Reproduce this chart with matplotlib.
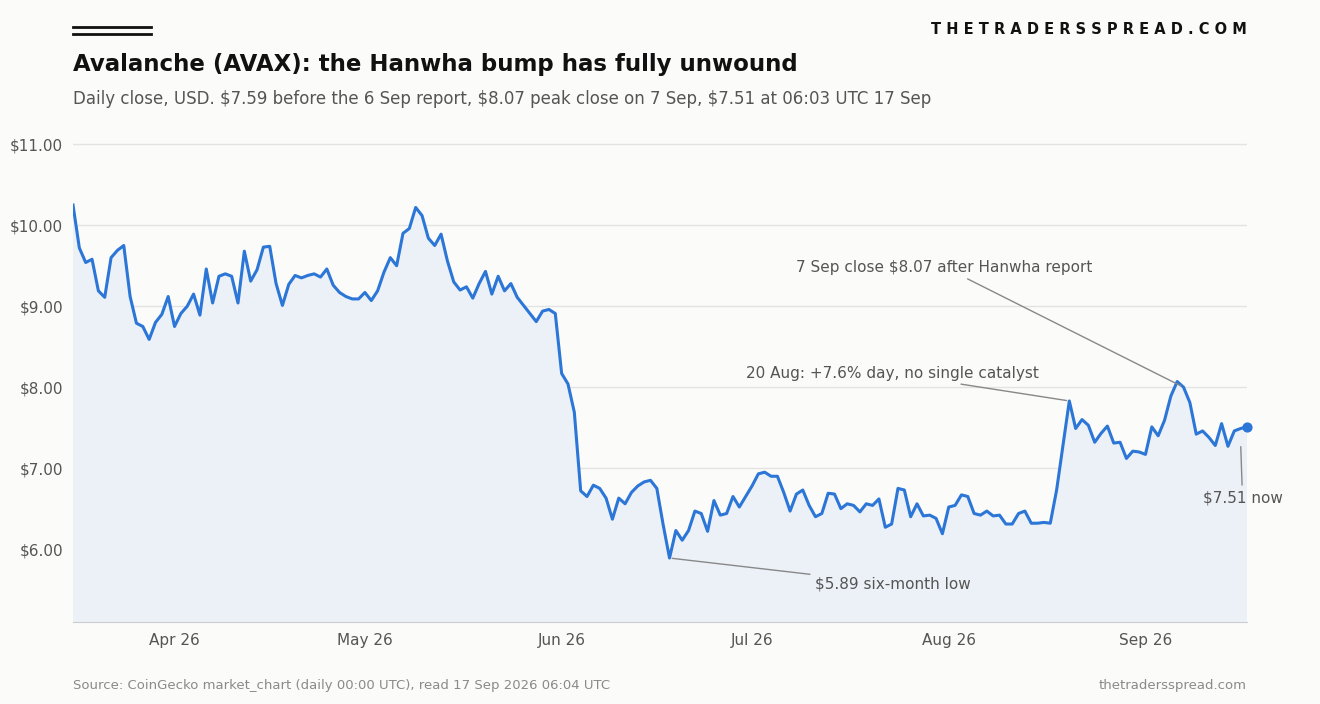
import matplotlib
matplotlib.use("Agg")
import matplotlib.pyplot as plt
import matplotlib.dates as mdates
from matplotlib.lines import Line2D
import numpy as np
import pandas as pd

# daily closes, USD
closes = [
    10.25, 9.72, 9.54, 9.58, 9.19, 9.11, 9.60, 9.69, 9.75, 9.12, 8.79, 8.75, 8.59, 8.80, 8.90,
    9.12, 8.75, 8.91, 9.00, 9.15, 8.89, 9.46, 9.04, 9.37, 9.40, 9.37, 9.04, 9.68, 9.31, 9.45,
    9.73, 9.74, 9.28, 9.01, 9.27, 9.38, 9.35, 9.38, 9.40, 9.36, 9.46, 9.26, 9.17, 9.12, 9.09,
    9.09, 9.17, 9.07, 9.19, 9.42, 9.60, 9.50, 9.90, 9.96, 10.22, 10.12, 9.84, 9.75, 9.89, 9.56,
    9.30, 9.20, 9.24, 9.10, 9.28, 9.43, 9.15, 9.37, 9.19, 9.28, 9.11, 9.01, 8.91, 8.81, 8.94,
    8.96, 8.91, 8.17, 8.04, 7.69, 6.72, 6.65, 6.79, 6.75, 6.63, 6.37, 6.63, 6.56, 6.70, 6.78,
    6.83, 6.85, 6.75, 6.30, 5.89, 6.23, 6.11, 6.23, 6.47, 6.44, 6.22, 6.60, 6.42, 6.44, 6.65,
    6.52, 6.65, 6.78, 6.93, 6.95, 6.90, 6.90, 6.70, 6.47, 6.68, 6.73, 6.54, 6.40, 6.44, 6.69,
    6.68, 6.50, 6.56, 6.54, 6.46, 6.56, 6.54, 6.62, 6.27, 6.31, 6.75, 6.73, 6.40, 6.56, 6.41,
    6.42, 6.38, 6.19, 6.52, 6.54, 6.67, 6.65, 6.44, 6.42, 6.47, 6.41, 6.42, 6.31, 6.31, 6.44,
    6.47, 6.32, 6.32, 6.33, 6.32, 6.73, 7.28, 7.83, 7.49, 7.60, 7.53, 7.32, 7.43, 7.52, 7.31,
    7.32, 7.12, 7.21, 7.20, 7.17, 7.51, 7.40, 7.59, 7.89, 8.07, 8.00, 7.81, 7.42, 7.46, 7.38,
    7.28, 7.55, 7.27, 7.46, 7.49, 7.51,
]
dates = pd.date_range(end="2026-09-17", periods=len(closes), freq="D")
tick_dates = pd.to_datetime(["2026-04-01", "2026-05-01", "2026-06-01", "2026-07-01", "2026-08-01", "2026-09-01"])
y_ticks = [6, 7, 8, 9, 10, 11]

BG = "#fbfbfa"
LINE = "#2b76d6"
GREY = "#555555"

fig = plt.figure(figsize=(13.2, 7.04), dpi=100, facecolor=BG)
ax = fig.add_axes([73 / 1320, 82 / 704, 1174 / 1320, 502 / 704], facecolor=BG)

ax.fill_between(dates, closes, 0, color="#ecf1f8", zorder=1)
ax.plot(dates, closes, color=LINE, lw=2.2, zorder=3)
ax.scatter([dates[-1]], [closes[-1]], s=40, color=LINE, zorder=4, clip_on=False)

ax.set_xlim(dates[0], dates[-1])
ax.set_ylim(5.1, 11.3)
ax.set_yticks(y_ticks)
ax.set_yticklabels([f"${v:.2f}" for v in y_ticks])
ax.set_xticks(tick_dates)
ax.xaxis.set_major_formatter(mdates.DateFormatter("%b %y"))
ax.grid(axis="y", color="#e3e3e3", lw=1)
ax.set_axisbelow(True)
for s in ["top", "right", "left"]:
    ax.spines[s].set_visible(False)
ax.spines["bottom"].set_color("#c8ccd2")
ax.tick_params(axis="y", length=0, labelsize=11, colors=GREY, pad=7)
ax.tick_params(axis="x", length=0, labelsize=11, colors=GREY, pad=8)

arrow = dict(arrowstyle="-", color="#888888", lw=1)
def note(i, text, tx, ty, ha):
    ax.annotate(text, xy=(dates[i], closes[i]), xytext=(pd.Timestamp(tx), ty),
                fontsize=11, color=GREY, ha=ha, va="center", arrowprops=arrow, zorder=5)

i_low = closes.index(min(closes))
i_peak = closes.index(max(closes[150:])) if False else len(closes) - 1 - 10
note(i_peak, "7 Sep close $8.07 after Hanwha report", "2026-07-08", 9.48, "left")
note(len(closes) - 1 - 28, "20 Aug: +7.6% day, no single catalyst", "2026-06-30", 8.17, "left")
note(i_low, "$5.89 six-month low", "2026-07-11", 5.57, "left")
ax.annotate("$7.51 now", xy=(dates[-2], 7.3), xytext=(pd.Timestamp("2026-09-10"), 6.63),
            fontsize=11, color=GREY, ha="left", va="center", arrowprops=arrow, zorder=5)

# header
fig.add_artist(Line2D([73 / 1320, 151 / 1320], [1 - 27 / 704] * 2, color="#111111", lw=2))
fig.add_artist(Line2D([73 / 1320, 151 / 1320], [1 - 34 / 704] * 2, color="#111111", lw=2))
fig.text(1247 / 1320, 1 - 29 / 704, "T H E T R A D E R S S P R E A D . C O M", ha="right", va="center",
         fontsize=10.5, fontweight="bold", color="#111111")
fig.text(73 / 1320, 1 - 65 / 704, "Avalanche (AVAX): the Hanwha bump has fully unwound", ha="left", va="center",
         fontsize=16.5, fontweight="bold", color="#111111")
fig.text(73 / 1320, 1 - 99 / 704,
         "Daily close, USD. $7.59 before the 6 Sep report, $8.07 peak close on 7 Sep, $7.51 at 06:03 UTC 17 Sep",
         ha="left", va="center", fontsize=12, color=GREY)
fig.text(73 / 1320, 1 - 685 / 704, "Source: CoinGecko market_chart (daily 00:00 UTC), read 17 Sep 2026 06:04 UTC",
         ha="left", va="center", fontsize=9.5, color="#8a8a8a")
fig.text(1247 / 1320, 1 - 685 / 704, "thetradersspread.com", ha="right", va="center", fontsize=9.5, color="#8a8a8a")

fig.savefig("out.png", dpi=100, facecolor=BG)
